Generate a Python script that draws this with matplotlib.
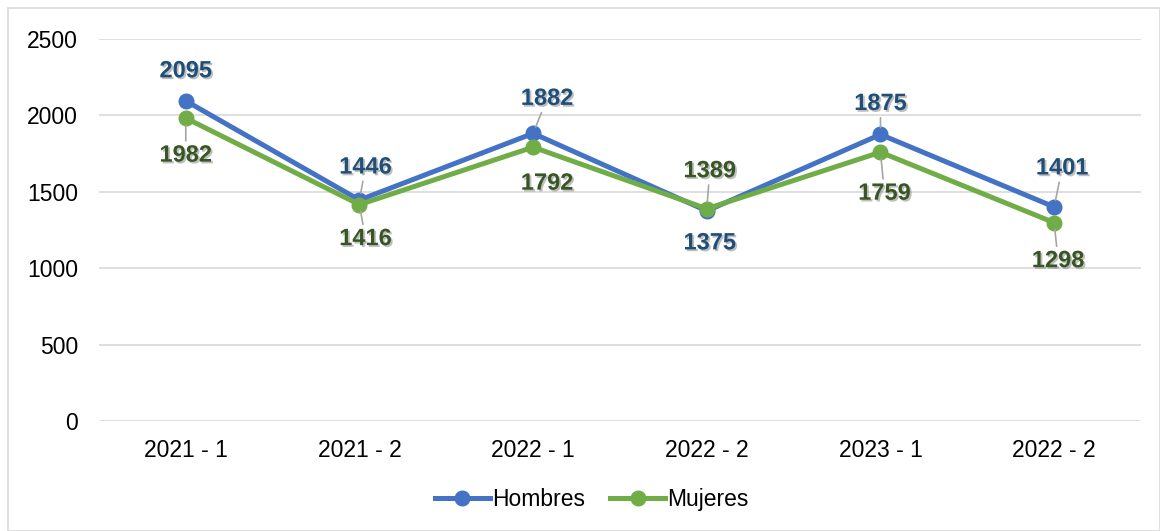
import matplotlib.pyplot as plt
import matplotlib.patheffects as pe
from matplotlib.patches import Rectangle

# data
periodos = ['2021 - 1', '2021 - 2', '2022 - 1', '2022 - 2', '2023 - 1', '2022 - 2']
hombres = [2095, 1446, 1882, 1375, 1875, 1401]
mujeres = [1982, 1416, 1792, 1389, 1759, 1298]

# label offsets (pixels) and whether a leader line is drawn
off_h = [(0, 30), (6, 33), (14, 35), (3, -32), (0, 31), (8, 39)]
lead_h = [False, True, True, False, True, True]
off_m = [(0, -37), (6, -34), (14, -36), (3, 38), (4, -41), (4, -38)]
lead_m = [True, True, False, True, True, True]

c_h, c_m = '#4472C4', '#70AD47'
txt_h, txt_m = '#1F4E79', '#375623'

plt.rcParams['font.family'] = ['Liberation Sans', 'DejaVu Sans']

fig = plt.figure(figsize=(11.6, 5.31), dpi=100)
ax = fig.add_axes([0.0853, 0.2072, 0.8983, 0.7194])

x = list(range(len(periodos)))
ax.plot(x, hombres, color=c_h, lw=3.6, marker='o', ms=10.5, label='Hombres', zorder=3)
ax.plot(x, mujeres, color=c_m, lw=3.6, marker='o', ms=10.5, label='Mujeres', zorder=4)

shadow = [pe.SimplePatchShadow(offset=(1.3, -1.3), shadow_rgbFace='#808080', alpha=0.5), pe.Normal()]


def labels(vals, offs, leads, col):
    for i, v in enumerate(vals):
        ap = dict(arrowstyle='-', color='#A6A6A6', lw=1.2, shrinkA=0, shrinkB=5) if leads[i] else None
        ax.annotate(str(v), (i, v), xytext=offs[i], textcoords='offset pixels',
                    ha='center', va='center', fontsize=17, fontweight='bold',
                    color=col, path_effects=shadow, arrowprops=ap, zorder=5)


labels(hombres, off_h, lead_h, txt_h)
labels(mujeres, off_m, lead_m, txt_m)

ax.set_xlim(-0.5, 5.5)
ax.set_ylim(0, 2500)
ax.set_yticks(range(0, 2501, 500))
ax.set_xticks(x)
ax.set_xticklabels(periodos)
ax.tick_params(length=0, labelsize=16.5, colors='black')
ax.tick_params(axis='x', pad=13)
ax.tick_params(axis='y', pad=15)
ax.grid(axis='y', color='#D9D9D9', lw=1.2)
ax.set_axisbelow(True)
for s in ax.spines.values():
    s.set_visible(False)

fig.legend(*ax.get_legend_handles_labels(), loc='center', bbox_to_anchor=(0.51, 0.06),
           ncol=2, frameon=False, fontsize=16.5, handlelength=2.4, handletextpad=0.1,
           columnspacing=1.1)

fig.patches.append(Rectangle((0.007, 0.0), 0.993, 0.985, transform=fig.transFigure,
                             fill=False, edgecolor='#D9D9D9', lw=1.2))

fig.savefig('out.png', dpi=100)
